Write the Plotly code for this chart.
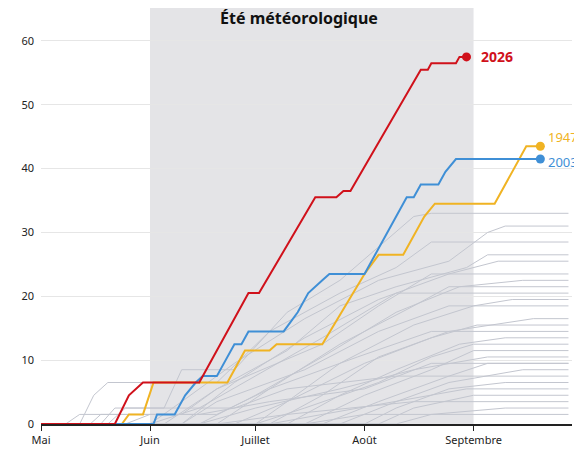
import plotly.graph_objects as go

# Highlighted years: (month-day, cumulative days)
y2026 = [("05-01",0),("05-22",0),("05-26",4.5),("05-30",6.5),("06-15",6.5),("06-29",20.5),("07-02",20.5),
         ("07-18",35.5),("07-24",35.5),("07-26",36.5),("07-28",36.5),("08-17",55.5),("08-19",55.5),
         ("08-20",56.5),("08-27",56.5),("08-28",57.5),("08-30",57.5)]
y2003 = [("05-01",0),("06-02",0),("06-03",1.5),("06-08",1.5),("06-11",4.5),("06-14",6.5),("06-16",7.5),
         ("06-20",7.5),("06-25",12.5),("06-27",12.5),("06-29",14.5),("07-09",14.5),("07-13",17.5),
         ("07-16",20.5),("07-20",22.5),("07-22",23.5),("08-01",23.5),("08-13",35.5),("08-15",35.5),
         ("08-17",37.5),("08-22",37.5),("08-24",39.5),("08-27",41.5),("09-20",41.5)]
y1947 = [("05-01",0),("05-24",0),("05-26",1.5),("05-30",1.5),("06-02",6.5),("06-23",6.5),("06-28",11.5),
         ("07-05",11.5),("07-07",12.5),("07-20",12.5),("08-01",23.5),("08-05",26.5),("08-12",26.5),
         ("08-18",32.5),("08-21",34.5),("09-07",34.5),("09-16",43.5),("09-20",43.5)]

other_years = [
"05-12:0,05-16:4.5,05-20:6.5,06-20:6.5,07-05:14.5,07-25:20.5,08-10:24.5,08-20:28.5",
"05-20:0,05-25:2.5,06-05:2.5,06-10:8.5,06-25:8.5,07-10:17.5,07-25:22.5,08-15:32.5,08-20:33",
"06-01:0,06-10:3.5,06-25:9.5,07-15:16.5,08-05:22.5,08-25:25.5,09-05:30,09-10:31",
"06-05:0,06-20:5.5,07-10:11.5,07-25:18.5,08-10:21.5,08-30:24.5,09-05:26.5",
"06-10:0,06-25:6.5,07-15:13.5,08-05:19.5,08-25:23.5,09-08:25.5",
"05-15:0,05-18:1.5,06-10:1.5,06-20:5.5,07-20:12.5,08-05:18.5,08-20:23.5",
"06-15:0,07-01:4.5,07-20:10.5,08-10:17.5,08-28:21.5,09-15:22.5",
"06-20:0,07-05:5.5,07-25:12.5,08-15:18.5,08-25:21.5",
"06-01:0,06-15:2.5,07-01:7.5,07-20:13.5,08-10:20.5",
"07-01:0,07-10:3.5,07-25:9.5,08-15:15.5,09-01:18.5,09-12:19.5",
"06-10:0,06-20:3.5,07-15:8.5,08-05:14.5,08-25:18.5",
"07-05:0,07-20:4.5,08-05:10.5,08-25:14.5,09-18:16.5",
"06-25:0,07-10:3.5,08-01:9.5,08-20:13.5,09-02:15.5",
"05-25:0,06-01:1.5,06-20:1.5,07-05:5.5,07-30:10.5,08-20:14.5",
"07-10:0,07-25:4.5,08-10:8.5,08-28:12.5,09-10:13.5",
"07-01:0,07-15:2.5,08-05:6.5,08-20:10.5,09-01:12.5",
"07-15:0,08-01:4.5,08-20:8.5,09-01:11.5",
"06-15:0,07-01:2.5,07-25:5.5,08-15:8.5,09-05:10.5",
"07-20:0,08-05:3.5,08-25:7.5,09-05:9.5",
"07-25:0,08-10:3.5,08-25:6.5,09-15:8.5",
"05-18:0,05-22:2.5,06-25:2.5,07-10:5.5,08-10:7.5",
"08-01:0,08-10:2.5,08-25:5.5,09-10:6.5",
"07-05:0,07-20:1.5,08-10:3.5,08-30:5.5",
"08-05:0,08-15:2.5,09-01:4.5",
"06-20:0,07-10:1.5,08-15:3.5",
"08-10:0,08-20:1.5,09-10:2.5",
"07-15:0,08-01:1.5",
"05-08:0,05-12:1.5,06-15:1.5,07-05:3.5,08-01:5.5,08-20:9.5",
]
END = "09-28"
YEAR = "2026-"

def xy(pts):
    return [YEAR + d for d, _ in pts], [v for _, v in pts]

fig = go.Figure()
fig.add_vrect(x0="2026-06-01", x1="2026-09-01", y0=0, y1=60, yref="y",
              fillcolor="#e4e4e7", line_width=0, layer="below")

for s in other_years:
    pts = [(p.split(":")[0], float(p.split(":")[1])) for p in s.split(",")]
    pts = [("05-01", 0)] + pts + [(END, pts[-1][1])]
    x, y = xy(pts)
    fig.add_trace(go.Scatter(x=x, y=y, mode="lines", line=dict(color="#c3c6cf", width=1),
                             hoverinfo="skip", showlegend=False))

for pts, col in [(y1947, "#f0b323"), (y2003, "#3f8fd6"), (y2026, "#d0111b")]:
    x, y = xy(pts)
    fig.add_trace(go.Scatter(x=x, y=y, mode="lines", line=dict(color=col, width=2), showlegend=False))
    fig.add_trace(go.Scatter(x=[x[-1]], y=[y[-1]], mode="markers", marker=dict(color=col, size=9),
                             showlegend=False, cliponaxis=False))

fig.add_annotation(x=YEAR + y2026[-1][0], y=y2026[-1][1], text="<b>2026</b>", showarrow=False,
                   xanchor="left", xshift=12, font=dict(color="#d0111b", size=14))
fig.add_annotation(x=YEAR + y1947[-1][0], y=y1947[-1][1], text="1947", showarrow=False,
                   xanchor="left", xshift=6, yshift=9, font=dict(color="#f0b323", size=13))
fig.add_annotation(x=YEAR + y2003[-1][0], y=y2003[-1][1], text="2003", showarrow=False,
                   xanchor="left", xshift=6, yshift=-3, font=dict(color="#3f8fd6", size=13))

fig.update_layout(
    width=582, height=450, margin=dict(l=33, r=18, t=31, b=34),
    paper_bgcolor="white", plot_bgcolor="white",
    font=dict(family="Noto Sans", size=11, color="#222"),
    title=dict(text="<b>Été météorologique</b>", x=0.5, xanchor="center", y=0.99, yanchor="top",
               font=dict(size=16, color="#111")),
    xaxis=dict(type="date", range=["2026-05-01", "2026-09-29"], automargin=False,
               tickvals=["2026-05-01", "2026-06-01", "2026-07-01", "2026-08-01", "2026-09-01"],
               ticktext=["Mai", "Juin", "Juillet", "Août", "Septembre"],
               showgrid=False, showline=True, linecolor="#222", linewidth=1.5,
               ticks="outside", ticklen=5, tickcolor="#222", zeroline=False),
    yaxis=dict(range=[0, 60.3], tickvals=[0, 10, 20, 30, 40, 50, 60], automargin=False,
               showgrid=True, gridcolor="#e6e6e6", zeroline=False, ticks="", ticklabelstandoff=6),
)
fig.write_html("out.html")
